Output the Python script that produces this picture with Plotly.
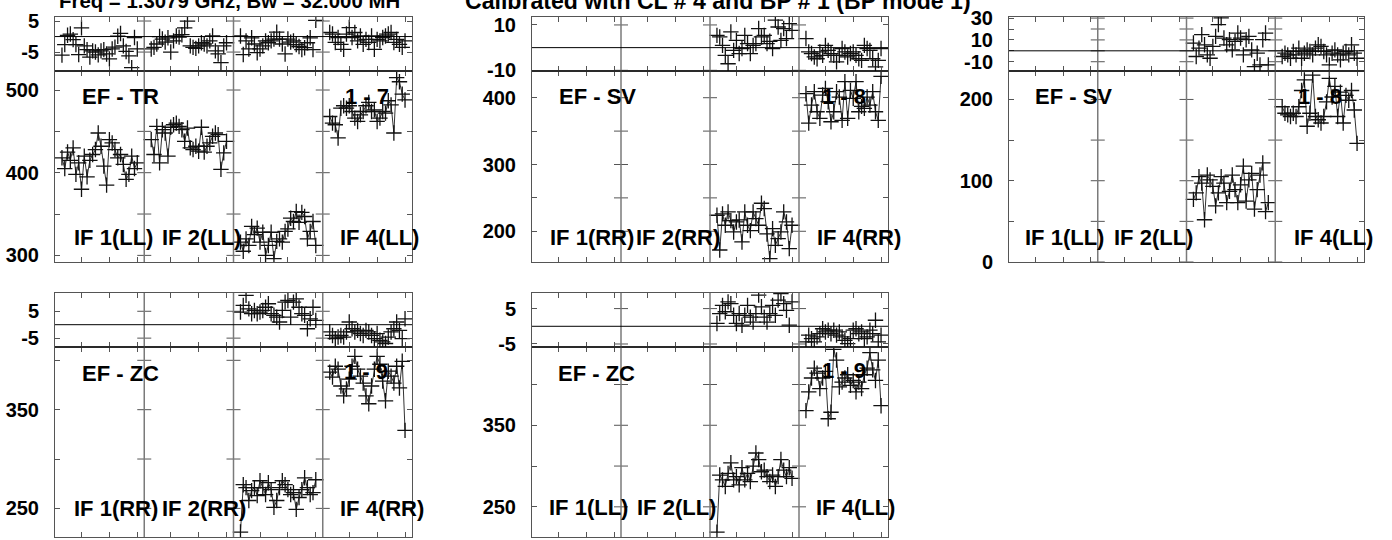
import plotly.graph_objects as go

W, H = 1392, 540
NCH = 32                      # channels per IF
CHANNELS = list(range(3, 31))  # channels that carry data
CH_TICKS = [10, 20, 30]
DIVIDERS = [32.5, 64.5, 96.5]

# ---- EF - TR (1 - 7), LL ----
A_PH1 = [-6.0, -2.6, 0.4, 0.8, -1.0, -2.6, -5.8, 2.8, -3.0, -4.2, -6.6, -4.6, -5.0, -5.9,
         -4.6, -4.2, -5.6, -7.2, -4.0, -3.4, 0.1, 1.0, -3.0, -4.8, -6.2, -10.0, -0.3, -4.0]
A_AMP1 = [418, 405, 425, 415, 430, 398, 412, 380, 420, 395, 415, 422, 428, 448,
          432, 408, 385, 440, 436, 428, 418, 422, 410, 392, 398, 420, 405, 412]
A_PH2 = [-4.0, -3.5, -2.4, 0.0, -0.8, -1.8, -0.4, -5.0, -1.4, 0.2, -0.2, 0.6, 2.8, 5.0,
         -3.0, -3.5, -3.8, -3.0, -2.0, -2.4, -3.0, -1.4, 0.2, -4.6, -5.6, -8.4, -3.0, -2.0]
A_AMP2 = [440, 422, 456, 412, 452, 448, 420, 455, 458, 460, 456, 452, 438, 454,
          430, 428, 432, 426, 455, 425, 432, 436, 444, 448, 446, 404, 424, 438]
A_PH3 = [0.2, -5.8, -1.4, -4.0, -0.4, -2.4, -5.2, -4.0, -3.0, -1.4, -2.0, -1.4, -0.8, 1.4,
         -0.8, -2.4, -5.6, -0.8, -1.8, -1.4, -2.6, -3.2, -4.2, -3.6, -2.0, -0.4, -4.2, 5.2]
A_AMP3 = [316, 305, 320, 312, 335, 325, 333, 316, 328, 300, 312, 328, 296, 317,
          320, 316, 329, 332, 345, 341, 353, 340, 352, 347, 320, 329, 341, 312]
A_PH4 = [1.3, 0.8, -1.9, -0.3, -2.5, -4.1, 0.8, 2.9, -0.3, 1.3, -1.4, 0.2, -2.5, -0.9,
         -1.9, 0.2, -4.1, -0.9, -1.4, -0.3, 0.2, 0.8, 1.3, -1.9, -0.9, -2.5, -3.5, -1.4]
A_AMP4 = [468, 460, 458, 442, 478, 481, 478, 481, 474, 466, 462, 470, 474, 481,
          485, 474, 476, 462, 466, 474, 472, 487, 482, 448, 515, 510, 495, 488]

# ---- EF - SV (1 - 8), RR ----
B_PH3 = [5.4, 4.7, 1.0, -3.4, -7.1, 6.9, -1.2, 3.2, -2.6, -0.4, 5.4, 1.8, -2.6, 1.0,
         1.8, 8.4, 4.7, 5.4, 1.8, 2.8, -0.4, 12.1, 9.1, 3.2, 8.4, 4.0, 10.6, 7.6]
B_AMP3 = [224, 172, 226, 209, 229, 216, 199, 214, 217, 184, 229, 209, 201, 229,
          219, 209, 242, 234, 196, 159, 204, 179, 189, 199, 229, 214, 174, 209]
B_PH4 = [4.0, -1.9, -2.6, -4.1, -4.9, -1.9, -3.4, 1.0, -1.2, -2.6, -3.4, -6.3, -3.4, -0.4,
         -1.9, -4.1, -2.6, -1.9, -3.4, -4.9, -5.6, 1.0, -0.4, -1.2, -4.9, -8.5, -5.6, -0.4]
B_AMP4 = [406, 362, 389, 409, 379, 369, 404, 414, 394, 364, 379, 409, 401, 366,
          424, 369, 411, 399, 424, 379, 387, 384, 401, 389, 409, 379, 366, 432]

# ---- EF - SV (1 - 8), LL ----
C_PH3 = [7.1, -5.2, 2.5, 14.8, 5.5, -3.7, -6.8, 4.0, 13.2, 24.0, 30.2, 11.7, 5.5, 10.2,
         0.9, 8.6, 16.3, 11.7, -3.7, 10.2, 13.2, 0.9, -14.5, -2.2, -12.9, 10.2, 16.3, -12.9]
C_AMP3 = [77, 85, 105, 97, 52, 107, 101, 93, 69, 85, 105, 97, 73, 87,
          107, 89, 73, 95, 118, 75, 101, 109, 65, 89, 107, 122, 62, 73]
C_PH4 = [-5.2, -2.2, -3.7, -6.8, -0.6, -3.7, 2.5, -6.8, -2.2, 0.9, -0.6, -3.7, 2.5, 5.5,
         4.0, -0.6, -3.7, -12.9, -2.2, 0.9, -3.7, -8.3, -2.2, -0.6, -3.7, 5.5, -2.2, -6.8]
C_AMP4 = [191, 183, 181, 179, 183, 179, 191, 211, 224, 167, 183, 230, 179, 175,
          171, 179, 197, 226, 203, 216, 179, 209, 171, 205, 199, 211, 187, 146]

# ---- EF - ZC (1 - 9), RR ----
D_PH3 = [4.7, 7.2, 10.9, 5.9, 4.1, 5.3, 4.1, 4.7, 5.3, 6.5, 7.8, 4.1, 3.5, 2.8,
         1.0, 5.3, 8.4, 9.0, 2.8, 8.4, 9.6, 6.5, 4.1, 3.5, -1.5, 2.2, 6.5, 1.6]
D_AMP3 = [226, 274, 271, 258, 268, 271, 263, 278, 271, 264, 276, 269, 251, 258,
          271, 278, 274, 269, 264, 266, 249, 261, 269, 281, 271, 264, 266, 279]
D_PH4 = [-2.7, -4.0, -5.2, -4.6, -4.0, -4.6, -2.7, 1.0, -1.5, -2.7, -2.1, -3.3, -4.0, -2.1,
         -2.7, -4.0, -5.2, -3.3, -5.8, -6.4, -7.0, -4.6, -2.7, -1.5, 1.0, -2.1, -5.2, 2.2]
D_AMP4 = [388, 383, 394, 391, 374, 364, 371, 381, 394, 404, 391, 384, 377, 364,
          356, 374, 391, 404, 396, 379, 359, 389, 384, 377, 394, 372, 399, 329]

# ---- EF - ZC (1 - 9), LL ----
E_PH3 = [0.8, 3.6, 5.9, 4.1, 6.9, 6.4, 3.1, 0.8, 3.6, 0.3, 3.1, 5.9, 2.6, 1.2,
         3.6, 8.8, 5.5, 2.6, 1.2, 3.6, 5.9, 3.1, 7.4, 9.2, 6.4, 4.5, 0.3, 6.9]
E_AMP3 = [219, 289, 283, 275, 291, 304, 283, 287, 277, 298, 283, 291, 281, 300,
          316, 308, 293, 295, 287, 281, 289, 275, 287, 308, 295, 287, 298, 285]
E_PH4 = [-4.4, -2.5, -3.5, -4.4, -3.0, -2.1, -0.7, -1.6, -1.1, -2.1, -1.1, -2.5, -1.6, -3.0,
         -4.0, -4.9, -3.5, -1.1, -0.7, -2.1, -1.6, -3.5, -3.0, -1.1, -2.1, 1.7, -4.4, -2.5]
E_AMP4 = [368, 391, 408, 420, 414, 395, 408, 416, 358, 366, 443, 430, 397, 403,
          408, 412, 399, 405, 391, 403, 395, 412, 420, 439, 418, 405, 430, 374]

TITLE_1 = "Freq = 1.3079 GHz, Bw = 32.000 MH"
TITLE_2 = "Calibrated with CL # 4 and BP # 1 (BP mode 1)"

# panel geometry in pixels: box left/right, phase top, phase/amp split, amp bottom
PANELS = [
    dict(name="EF - TR", base="1 - 7", pol="LL", box=(55, 412, 17, 71, 262),
         ph_range=(-11.1, 6.3), ph_ticks=[-5, 5], ph_labels=[-5, 5],
         amp_range=(292, 523), amp_ticks=[300, 350, 400, 450, 500], amp_labels=[300, 400, 500],
         data={1: (A_PH1, A_AMP1), 2: (A_PH2, A_AMP2), 3: (A_PH3, A_AMP3), 4: (A_PH4, A_AMP4)},
         name_xy=(80, 97), base_xy=(343, 97), if_y=237, if_x=(72, 160, 338)),
    dict(name="EF - SV", base="1 - 8", pol="RR", box=(532, 888, 17, 71, 262),
         ph_range=(-10.3, 13.5), ph_ticks=[-10, 10], ph_labels=[-10, 10],
         amp_range=(154, 440), amp_ticks=[200, 250, 300, 350, 400], amp_labels=[200, 300, 400],
         data={3: (B_PH3, B_AMP3), 4: (B_PH4, B_AMP4)},
         name_xy=(557, 97), base_xy=(820, 97), if_y=237, if_x=(548, 634, 815)),
    dict(name="EF - SV", base="1 - 8", pol="LL", box=(1009, 1364, 17, 71, 262),
         ph_range=(-18.5, 31), ph_ticks=[-10, 0, 10, 20, 30], ph_labels=[-10, 10, 30],
         amp_range=(0, 235), amp_ticks=[0, 50, 100, 150, 200], amp_labels=[0, 100, 200],
         data={3: (C_PH3, C_AMP3), 4: (C_PH4, C_AMP4)},
         name_xy=(1033, 97), base_xy=(1296, 97), if_y=237, if_x=(1023, 1112, 1292)),
    dict(name="EF - ZC", base="1 - 9", pol="RR", box=(55, 412, 293, 347, 537),
         ph_range=(-8.3, 11.8), ph_ticks=[-5, 5], ph_labels=[-5, 5],
         amp_range=(221, 413.5), amp_ticks=[250, 300, 350, 400], amp_labels=[250, 350],
         data={3: (D_PH3, D_AMP3), 4: (D_PH4, D_AMP4)},
         name_xy=(80, 374), base_xy=(342, 371), if_y=508, if_x=(72, 160, 338)),
    dict(name="EF - ZC", base="1 - 9", pol="LL", box=(532, 888, 293, 347, 537),
         ph_range=(-5.85, 9.4), ph_ticks=[-5, 5], ph_labels=[-5, 5],
         amp_range=(213, 446), amp_ticks=[250, 300, 350, 400], amp_labels=[250, 350],
         data={3: (E_PH3, E_AMP3), 4: (E_PH4, E_AMP4)},
         name_xy=(556, 373), base_xy=(820, 370), if_y=507, if_x=(547, 635, 814)),
]

FONT = "Liberation Sans, Arial, sans-serif"
AXIS_COLOR = "#555555"


def fx(px):
    return px / W


def fy(py):
    return 1 - py / H


def sfx(n):
    return "" if n == 1 else str(n)


fig = go.Figure()
layout = dict(width=W, height=H, margin=dict(l=0, r=0, t=0, b=0, pad=0, autoexpand=False),
              paper_bgcolor="white", plot_bgcolor="white", showlegend=False,
              font=dict(family=FONT, color="black"))
shapes, annotations = [], []

xtickvals = [k * NCH + c for k in range(4) for c in CH_TICKS]

for i, p in enumerate(PANELS):
    na, nph = 2 * i + 1, 2 * i + 2
    x0, x1, yt, ym, yb = p["box"]
    common_x = dict(domain=[fx(x0), fx(x1)], range=[0.5, 4 * NCH + 0.5], automargin=False,
                    tickvals=xtickvals, showticklabels=False, ticks="inside", ticklen=5,
                    tickcolor=AXIS_COLOR, mirror="ticks", showline=True, linecolor=AXIS_COLOR,
                    linewidth=1, showgrid=False, zeroline=False)
    layout["xaxis" + sfx(na)] = dict(common_x, anchor="y" + sfx(na))
    layout["xaxis" + sfx(nph)] = dict(common_x, anchor="y" + sfx(nph), matches="x" + sfx(na))

    common_y = dict(ticks="inside", ticklen=5, tickcolor=AXIS_COLOR, mirror="ticks",
                    showline=True, linecolor=AXIS_COLOR, linewidth=1, showgrid=False,
                    zeroline=False, ticklabelstandoff=11, automargin=False,
                    tickfont=dict(family=FONT, size=20, color="black", weight="bold"))
    layout["yaxis" + sfx(na)] = dict(
        common_y, domain=[fy(yb), fy(ym)], anchor="x" + sfx(na), range=list(p["amp_range"]),
        tickvals=p["amp_ticks"],
        ticktext=[str(v) if v in p["amp_labels"] else "" for v in p["amp_ticks"]])
    layout["yaxis" + sfx(nph)] = dict(
        common_y, domain=[fy(ym), fy(yt)], anchor="x" + sfx(nph), range=list(p["ph_range"]),
        tickvals=p["ph_ticks"],
        ticktext=[str(v) if v in p["ph_labels"] else "" for v in p["ph_ticks"]])

    # IF separators and the crossing ticks on them
    for d in DIVIDERS:
        shapes.append(dict(type="line", xref="x" + sfx(na), yref="paper", x0=d, x1=d,
                           y0=fy(yb), y1=fy(yt), line=dict(color="#7a7a7a", width=1.5)))
    for n, ticks in ((na, p["amp_ticks"]), (nph, p["ph_ticks"])):
        fig.add_trace(go.Scatter(
            x=[d for d in DIVIDERS for _ in ticks], y=[t for _ in DIVIDERS for t in ticks],
            xaxis="x" + sfx(n), yaxis="y" + sfx(n), mode="markers", hoverinfo="skip",
            marker=dict(symbol="line-ew", size=10, line=dict(color=AXIS_COLOR, width=1))))

    # phase zero line and phase/amplitude split
    shapes.append(dict(type="line", xref="x" + sfx(na), yref="y" + sfx(nph),
                       x0=0.5, x1=4 * NCH + 0.5, y0=0, y1=0, line=dict(color="black", width=1)))
    shapes.append(dict(type="line", xref="x" + sfx(na), yref="paper",
                       x0=0.5, x1=4 * NCH + 0.5, y0=fy(ym), y1=fy(ym),
                       line=dict(color="black", width=1)))

    cross = dict(symbol="cross-thin", size=11, color="black", line=dict(color="#111", width=1.3))
    for k, (ph, amp) in p["data"].items():
        xs = [(k - 1) * NCH + c for c in CHANNELS]
        fig.add_trace(go.Scatter(x=xs, y=ph, xaxis="x" + sfx(nph), yaxis="y" + sfx(nph),
                                 mode="markers", marker=cross, hoverinfo="skip"))
        fig.add_trace(go.Scatter(x=xs, y=amp, xaxis="x" + sfx(na), yaxis="y" + sfx(na),
                                 mode="lines+markers", marker=cross, hoverinfo="skip",
                                 line=dict(color="#333", width=1)))

    lab = dict(family=FONT, size=22, color="black", weight="bold")
    for text, (lx, ly) in ((p["name"], p["name_xy"]), (p["base"], p["base_xy"])):
        annotations.append(dict(text=text, x=fx(lx), y=fy(ly), xref="paper", yref="paper",
                                xanchor="left", yanchor="middle", showarrow=False, font=lab))
    for num, lx in zip((1, 2, 4), p["if_x"]):
        annotations.append(dict(text=f"IF {num}({p['pol']})", x=fx(lx), y=fy(p["if_y"]),
                                xref="paper", yref="paper", xanchor="left", yanchor="middle",
                                showarrow=False, font=lab))

# the plot title sits partly above the page, as in the original output
annotations.append(dict(text=TITLE_1, x=fx(57), y=fy(1.5), xref="paper", yref="paper",
                        xanchor="left", yanchor="middle", showarrow=False,
                        font=dict(family=FONT, size=20.4, color="black", weight="bold")))
annotations.append(dict(text=TITLE_2, x=fx(463), y=fy(1.5), xref="paper", yref="paper",
                        xanchor="left", yanchor="middle", showarrow=False,
                        font=dict(family=FONT, size=23.1, color="black", weight="bold")))

layout["shapes"] = shapes
layout["annotations"] = annotations
fig.update_layout(**layout)
# drop the browser's default page margin so the figure starts at the window corner
fig.write_html("out.html", config={"displayModeBar": False},
               post_script="document.body.style.margin = '0';")
